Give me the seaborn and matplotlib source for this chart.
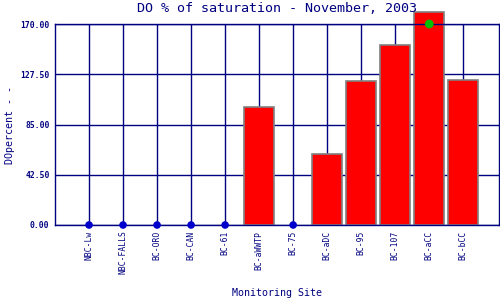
import matplotlib
matplotlib.use("Agg")
import matplotlib.pyplot as plt
import seaborn as sns
import pandas as pd
import numpy as np

sites = ["NBC-Lw", "NBC-FALLS", "BC-ORO", "BC-CAN", "BC-61", "BC-aWWTP",
         "BC-75", "BC-aDC", "BC-95", "BC-107", "BC-aCC", "BC-bCC"]
values = [0, 0, 0, 0, 0, 100, 0, 60, 122, 152, 180, 123]
yticks = [0.0, 42.5, 85.0, 127.5, 170.0]
max_marker_site = ["BC-aCC"]
max_marker_value = [170.0]

navy = "#000080"
sns.set_style("white")
plt.rcParams["font.family"] = ["DejaVu Sans Mono", "DejaVu Sans"]

df = pd.DataFrame({"site": sites, "value": values})
bars = df[df["value"] > 0]
zeros = df[df["value"] == 0]

fig = plt.figure(figsize=(5, 3), dpi=100)
ax = fig.add_axes([0.11, 0.25, 0.888, 0.67])

# grid lines
for y in yticks:
    ax.axhline(y, color=navy, lw=1, zorder=0)
for i in range(len(sites)):
    ax.axvline(i, color=navy, lw=1, zorder=0)

sns.barplot(data=bars, x="site", y="value", order=sites, color="#ff0000",
            width=0.88, edgecolor="#808080", linewidth=1.2, saturation=1,
            ax=ax, zorder=2)
for p in ax.patches:
    p.set_clip_on(False)

sns.scatterplot(data=zeros, x="site", y="value", color="#0000cc", s=30,
                edgecolor="none", ax=ax, zorder=4, clip_on=False)
mk = pd.DataFrame({"site": max_marker_site, "value": max_marker_value})
sns.scatterplot(data=mk, x="site", y="value", color="#00c000", s=40,
                edgecolor="none", ax=ax, zorder=5, clip_on=False)

ax.set_xlim(-1, 12.05)
ax.set_ylim(0, 170)
ax.set_yticks(yticks)
ax.set_yticklabels([f"{v:.2f}" for v in yticks], fontsize=5.8,
                   fontweight="bold", color=navy)
ax.set_xticks(range(len(sites)))
ax.set_xticklabels(sites, rotation=90, fontsize=5.8, color=navy)
ax.tick_params(axis="both", length=0, pad=4)
for s in ax.spines.values():
    s.set_color(navy)
    s.set_linewidth(1)

ax.set_xlabel("Monitoring Site", fontsize=7.2, color=navy, labelpad=10)
ax.set_ylabel("DOpercent - -", fontsize=7.2, color=navy, labelpad=4)
ax.set_title("DO % of saturation - November, 2003", fontsize=9.6,
             color=navy, pad=8.5)

fig.savefig("out.png", dpi=100)
